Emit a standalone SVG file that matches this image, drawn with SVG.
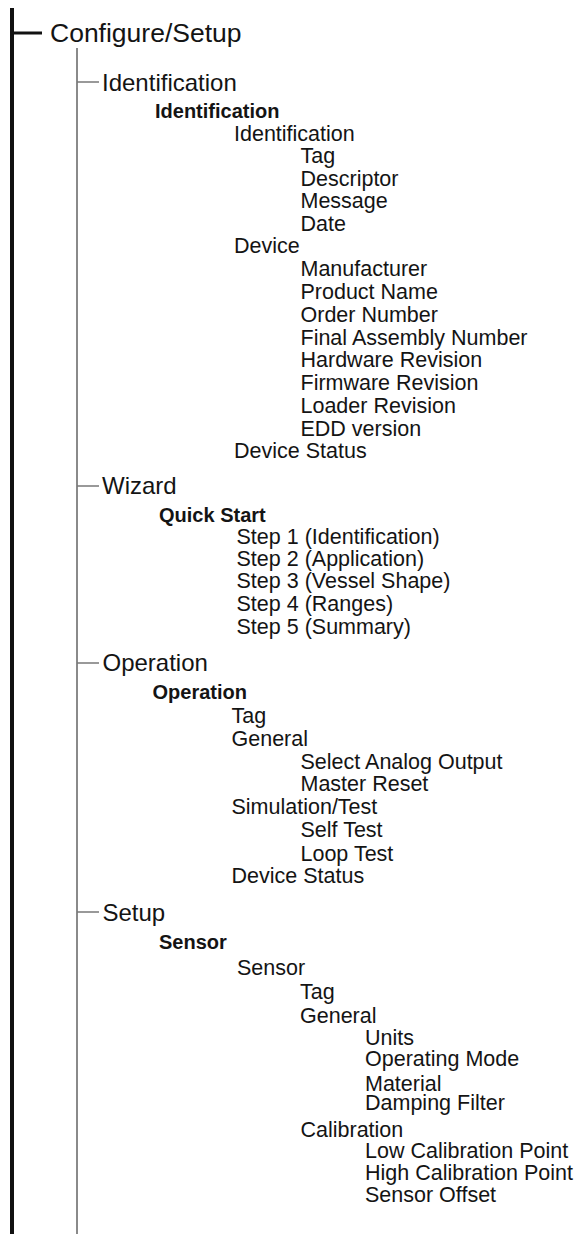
<svg xmlns="http://www.w3.org/2000/svg" width="579" height="1234" viewBox="0 0 579 1234">
<style>
text{font-family:"Liberation Sans",Arial,Helvetica,sans-serif;fill:#141414}
.t0{font-size:26.5px}
.t1{font-size:24px}
.t2{font-size:20px;font-weight:bold}
.t3{font-size:21.5px}
.thick{stroke:#111;stroke-width:4;fill:none}
.thin{stroke:#8a8a8a;stroke-width:2;fill:none}
.tick{stroke:#777;stroke-width:1.5;fill:none}
</style>
<rect width="579" height="1234" fill="#fff"/>
<g id="connectors">
<line class="thick" x1="12" y1="8" x2="12" y2="1234"/>
<line x1="12" y1="33" x2="42" y2="33" stroke="#111" stroke-width="3"/>
<line class="thin" x1="77" y1="48" x2="77" y2="1234"/>
<line class="tick" x1="77" y1="82" x2="99" y2="82"/>
<line class="tick" x1="77" y1="486" x2="99" y2="486"/>
<line class="tick" x1="77" y1="663" x2="99" y2="663"/>
<line class="tick" x1="77" y1="912" x2="99" y2="912"/>
</g>
<g id="root"><text class="t0" x="50" y="42">Configure/Setup</text></g>
<g id="identification">
<text class="t1" x="102" y="91">Identification</text>
<text class="t2" x="155" y="118">Identification</text>
<text class="t3" x="234" y="141">Identification</text>
<text class="t3" x="300.5" y="163">Tag</text>
<text class="t3" x="300.5" y="186">Descriptor</text>
<text class="t3" x="300.5" y="208">Message</text>
<text class="t3" x="300.5" y="231">Date</text>
<text class="t3" x="234" y="253">Device</text>
<text class="t3" x="300.5" y="276">Manufacturer</text>
<text class="t3" x="300.5" y="299">Product Name</text>
<text class="t3" x="300.5" y="322">Order Number</text>
<text class="t3" x="300.5" y="345">Final Assembly Number</text>
<text class="t3" x="300.5" y="367">Hardware Revision</text>
<text class="t3" x="300.5" y="390">Firmware Revision</text>
<text class="t3" x="300.5" y="412.5">Loader Revision</text>
<text class="t3" x="300.5" y="435.5">EDD version</text>
<text class="t3" x="234" y="457.5">Device Status</text>
</g>
<g id="wizard">
<text class="t1" x="102" y="494">Wizard</text>
<text class="t2" x="159" y="521.5">Quick Start</text>
<text class="t3" x="236.5" y="543.5">Step 1 (Identification)</text>
<text class="t3" x="236.5" y="566">Step 2 (Application)</text>
<text class="t3" x="236.5" y="587.5">Step 3 (Vessel Shape)</text>
<text class="t3" x="236.5" y="610.5">Step 4 (Ranges)</text>
<text class="t3" x="236.5" y="633.5">Step 5 (Summary)</text>
</g>
<g id="operation">
<text class="t1" x="102.5" y="671">Operation</text>
<text class="t2" x="152.5" y="698.5">Operation</text>
<text class="t3" x="231.5" y="723">Tag</text>
<text class="t3" x="231.5" y="746">General</text>
<text class="t3" x="300.5" y="768.5">Select Analog Output</text>
<text class="t3" x="300.5" y="791">Master Reset</text>
<text class="t3" x="231.5" y="814">Simulation/Test</text>
<text class="t3" x="300.5" y="837">Self Test</text>
<text class="t3" x="300.5" y="860.5">Loop Test</text>
<text class="t3" x="231.5" y="883">Device Status</text>
</g>
<g id="setup">
<text class="t1" x="102.5" y="921">Setup</text>
<text class="t2" x="159" y="949">Sensor</text>
<text class="t3" x="237" y="975">Sensor</text>
<text class="t3" x="300" y="998.5">Tag</text>
<text class="t3" x="300" y="1022.5">General</text>
<text class="t3" x="365" y="1044.5">Units</text>
<text class="t3" x="365" y="1065.5">Operating Mode</text>
<text class="t3" x="365" y="1090.5">Material</text>
<text class="t3" x="365" y="1109.5">Damping Filter</text>
<text class="t3" x="300.5" y="1136.5">Calibration</text>
<text class="t3" x="365" y="1157.5">Low Calibration Point</text>
<text class="t3" x="365" y="1180">High Calibration Point</text>
<text class="t3" x="365" y="1202">Sensor Offset</text>
</g>
</svg>
